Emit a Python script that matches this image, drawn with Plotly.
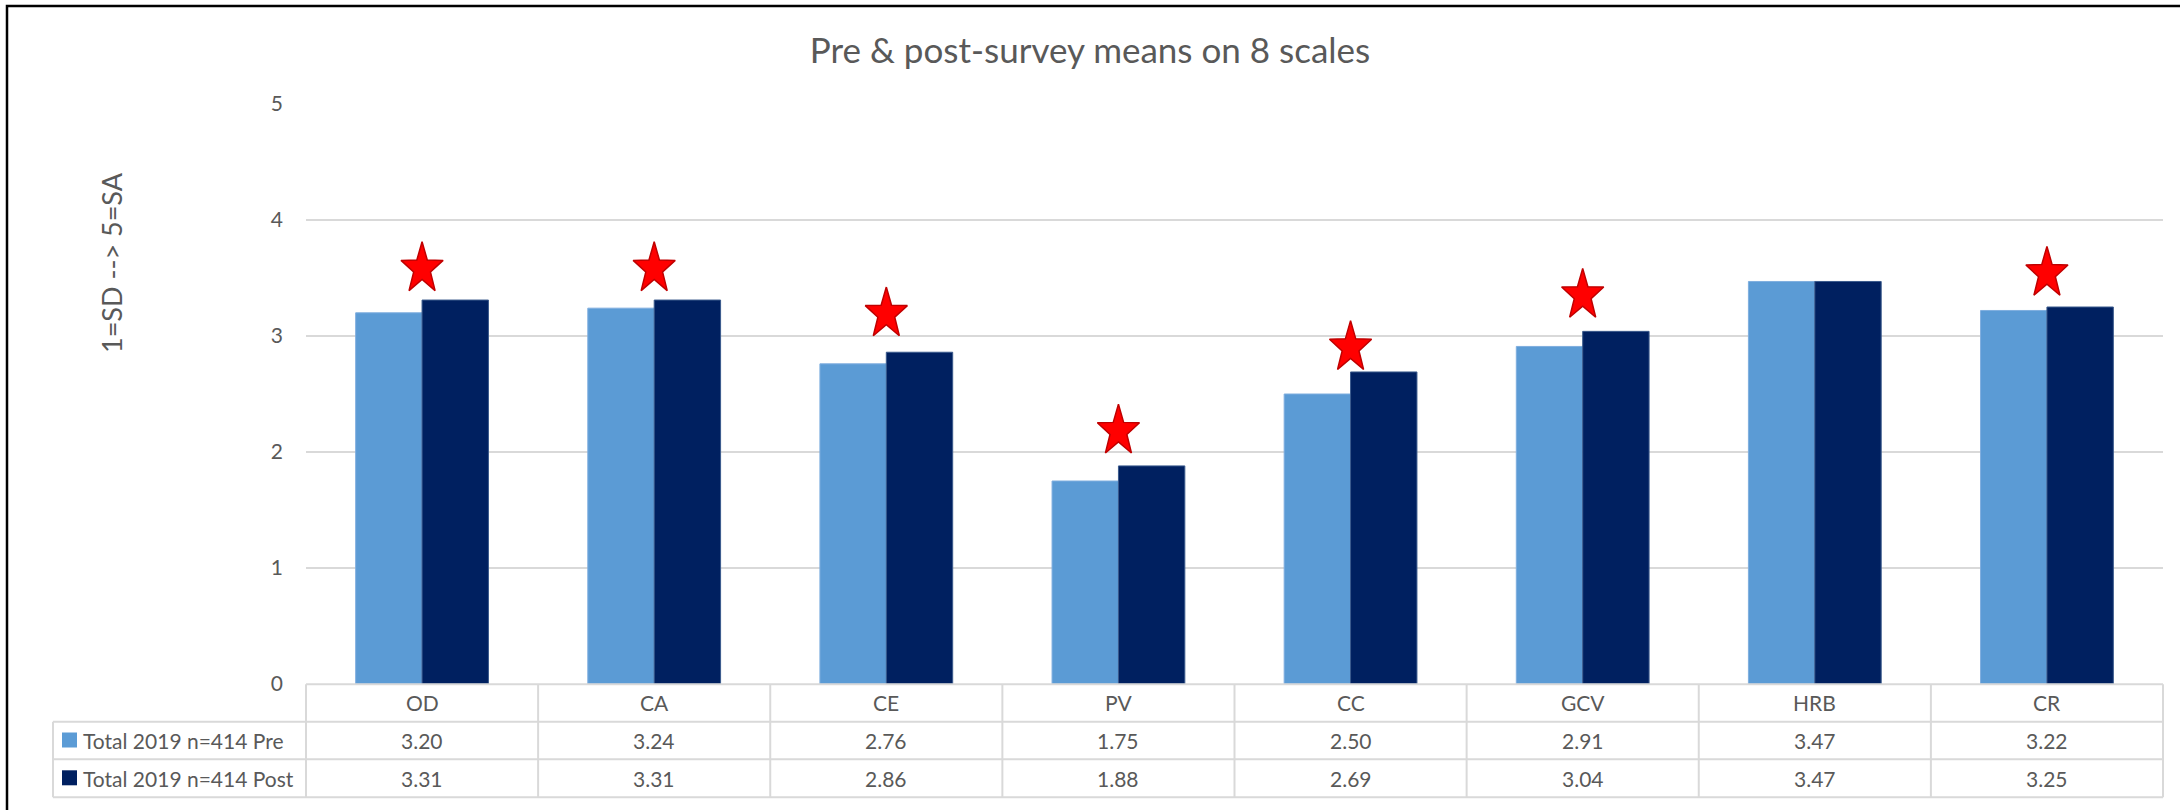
import math
import plotly.graph_objects as go

# ---- data -------------------------------------------------------------
scales = ["OD", "CA", "CE", "PV", "CC", "GCV", "HRB", "CR"]
pre_means = [3.20, 3.24, 2.76, 1.75, 2.50, 2.91, 3.47, 3.22]
post_means = [3.31, 3.31, 2.86, 1.88, 2.69, 3.04, 3.47, 3.25]
# height (in scale units) of the significance star above each pair; None = no star
star_level = [3.58, 3.58, 3.19, 2.18, 2.90, 3.35, None, 3.54]
series_names = ["Total 2019 n=414 Pre", "Total 2019 n=414 Post"]
y_ticks = [0, 1, 2, 3, 4, 5]

# ---- geometry / style -------------------------------------------------
W, H = 2180, 810
L, R, T, B = 306, 17, 104, 126
PW, PH = W - L - R, H - T - B
FONT = "Lato"
TXT = "#595959"
GRID = "#D9D9D9"
PRE_C, POST_C = "#5B9BD5", "#002060"
n = len(scales)


def px_x(x):
    """pixel x -> paper x"""
    return (x - L) / PW


def px_y(y):
    """pixel y (from top) -> paper y"""
    return (H - B - y) / PH


fig = go.Figure()

xs = list(range(n))
fig.add_trace(go.Bar(x=xs, y=pre_means, name=series_names[0],
                     marker=dict(color=PRE_C, line=dict(color="#7FAEDF", width=1))))
fig.add_trace(go.Bar(x=xs, y=post_means, name=series_names[1],
                     marker=dict(color=POST_C, line=dict(color="#3A5A8C", width=1))))

# significance stars, built as filled polygons around each star centre
star_r = 27.0          # outer radius in px
star_sx = 0.82         # horizontal squeeze
x_unit = PW / n                              # px per category
y_unit = PH / (y_ticks[-1] - y_ticks[0])     # px per scale point
sx, sy = [], []
for i, lvl in enumerate(star_level):
    if lvl is None:
        continue
    for k in range(11):
        a = k * math.pi / 5
        r = star_r if k % 2 == 0 else star_r * 0.40
        sx.append(i + r * math.sin(a) * star_sx / x_unit)
        sy.append(lvl + r * math.cos(a) / y_unit)
    sx.append(None)
    sy.append(None)
fig.add_trace(go.Scatter(x=sx, y=sy, mode="lines", fill="toself",
                         fillcolor="#FF0000", line=dict(color="#C00000", width=1.5),
                         hoverinfo="skip"))

# ---- data table under the plot ---------------------------------------
row_top = [684.3, 721.7, 759.3, 797.3]
table_left = 53
shapes = []
line = dict(color=GRID, width=2)
shapes.append(dict(type="line", xref="paper", yref="paper", x0=0, x1=1,
                   y0=px_y(row_top[0]), y1=px_y(row_top[0]), line=line))
for yy in row_top[1:]:
    shapes.append(dict(type="line", xref="paper", yref="paper",
                       x0=px_x(table_left), x1=1, y0=px_y(yy), y1=px_y(yy), line=line))
for k in range(n + 1):
    shapes.append(dict(type="line", xref="paper", yref="paper", x0=k / n, x1=k / n,
                       y0=px_y(row_top[0]), y1=px_y(row_top[-1]), line=line))
shapes.append(dict(type="line", xref="paper", yref="paper",
                   x0=px_x(table_left), x1=px_x(table_left),
                   y0=px_y(row_top[1]), y1=px_y(row_top[-1]), line=line))

# legend keys
for j, col in enumerate([PRE_C, POST_C]):
    cy = (row_top[j + 1] + row_top[j + 2]) / 2 - 0.5
    shapes.append(dict(type="rect", xref="paper", yref="paper",
                       x0=px_x(62), x1=px_x(77), y0=px_y(cy + 7.5), y1=px_y(cy - 7.5),
                       fillcolor=col, line=dict(width=0)))

# outer frame
shapes.append(dict(type="rect", xref="paper", yref="paper",
                   x0=px_x(7), x1=px_x(W + 20), y0=px_y(H + 20), y1=px_y(6),
                   line=dict(color="#000000", width=2.5), fillcolor="rgba(0,0,0,0)"))

annotations = []
tfont = dict(family=FONT, size=21, color=TXT)
for i, name in enumerate(scales):
    annotations.append(dict(x=i, xref="x", y=px_y((row_top[0] + row_top[1]) / 2),
                            yref="paper", text=name, showarrow=False, font=tfont,
                            xanchor="center", yanchor="middle"))
for j, vals in enumerate([pre_means, post_means]):
    cy = (row_top[j + 1] + row_top[j + 2]) / 2
    for i, v in enumerate(vals):
        annotations.append(dict(x=i, xref="x", y=px_y(cy), yref="paper",
                                text=f"{v:.2f}", showarrow=False, font=tfont,
                                xanchor="center", yanchor="middle"))
    annotations.append(dict(x=px_x(81), xref="paper", y=px_y(cy), yref="paper",
                            text=series_names[j], showarrow=False, font=tfont,
                            xanchor="left", yanchor="middle"))

# y-axis title
annotations.append(dict(x=px_x(111), xref="paper", y=px_y(263), yref="paper",
                        text="1=SD --> 5=SA", textangle=-90, showarrow=False,
                        font=dict(family=FONT, size=27, color=TXT),
                        xanchor="center", yanchor="middle"))

fig.update_layout(
    width=W, height=H, autosize=False,
    margin=dict(l=L, r=R, t=T, b=B, pad=0),
    paper_bgcolor="white", plot_bgcolor="white",
    showlegend=False,
    barmode="group", bargap=0.428, bargroupgap=0,
    title=dict(text="Pre & post-survey means on 8 scales", x=0.5, xref="container",
               xanchor="center", y=1 - 51 / H, yref="container", yanchor="middle",
               font=dict(family=FONT, size=35, color=TXT)),
    xaxis=dict(range=[-0.5, n - 0.5], showticklabels=False, showgrid=False,
               zeroline=False, showline=False, ticks=""),
    yaxis=dict(range=[y_ticks[0], y_ticks[-1]], tickvals=y_ticks, showgrid=True,
               gridcolor=GRID, gridwidth=2, zeroline=False, showline=False, ticks="",
               ticklabelstandoff=22, tickfont=dict(family=FONT, size=21, color=TXT)),
    shapes=shapes,
    annotations=annotations,
)

fig.write_html("out.html")
